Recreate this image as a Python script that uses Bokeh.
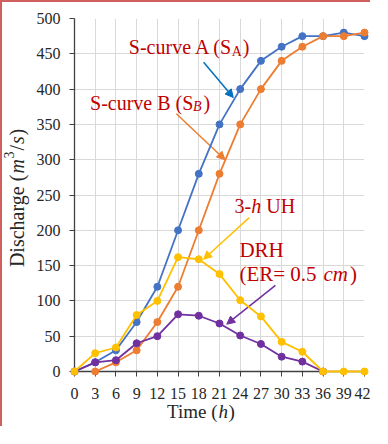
import math
from bokeh.plotting import figure
from bokeh.models import Range1d, FixedTicker, Label, Arrow, NormalHead
from bokeh.core.properties import value
from bokeh.embed import file_html
from bokeh.resources import INLINE

# ---- data ----
time = [0, 3, 6, 9, 12, 15, 18, 21, 24, 27, 30, 33, 36, 39, 42]
s_curve_a = [0, 13, 30, 70, 120, 200, 280, 350, 400, 440, 460, 475, 475, 480, 475]
time_b = [3, 6, 9, 12, 15, 18, 21, 24, 27, 30, 33, 36, 39, 42]
s_curve_b = [0, 13, 30, 70, 120, 200, 280, 350, 400, 440, 460, 475, 475, 480]
uh_3h = [0, 26, 34, 80, 100, 162, 159, 138, 101, 78, 42, 28, 0, 0, 0]
time_drh = [0, 3, 6, 9, 12, 15, 18, 21, 24, 27, 30, 33, 36]
drh = [0, 13, 16, 40, 50, 81, 79, 68, 51, 39, 21, 14, 0]
x_ticks = list(range(0, 43, 3))
y_ticks = list(range(0, 501, 50))

BLUE = "#4472C4"
ORANGE = "#ED7D31"
YELLOW = "#FFC000"
PURPLE = "#7030A0"
RED = "#C00000"
FONT = "Liberation Serif"
FIX = 6  # baseline correction (px)

p = figure(width=370, height=426, output_backend="svg", toolbar_location=None,
           x_range=Range1d(0, 42), y_range=Range1d(0, 500),
           min_border_left=72, min_border_right=8, min_border_top=16, min_border_bottom=57)
p.styles = {"border-left": "2px solid #D0605E", "border-top": "2px solid #D0605E"}
p.outline_line_color = None
p.background_fill_color = "white"
p.border_fill_color = "white"

for ax, ticks in ((p.xaxis, x_ticks), (p.yaxis, y_ticks)):
    ax.ticker = FixedTicker(ticks=ticks)
    ax.major_label_text_font = FONT
    ax.major_label_text_font_size = "16px"
    ax.major_label_text_color = "#262626"
    ax.axis_line_color = "#404040"
    ax.axis_line_width = 1.3
    ax.major_tick_line_color = "#404040"
    ax.major_tick_out = 5
    ax.major_tick_in = 0
    ax.minor_tick_line_color = None
p.xaxis.major_label_standoff = 11
p.yaxis.major_label_standoff = 9

p.xgrid.ticker = FixedTicker(ticks=x_ticks)
p.ygrid.ticker = FixedTicker(ticks=y_ticks)
p.grid.grid_line_color = "#D9D9D9"
p.grid.grid_line_width = 1

series = [
    (time, s_curve_a, BLUE),
    (time_b, s_curve_b, ORANGE),
    (time_drh, drh, PURPLE),
    (time, uh_3h, YELLOW),
]
for xs, ys, c in series:
    p.line(xs, ys, line_color=c, line_width=1.8, level="overlay")
    p.scatter(xs, ys, size=7, fill_color=c, line_color=c, level="overlay")

# arrows (data coordinates)
arrows = [
    ((18.7, 438), (23.0, 388), "#0070C0"),
    ((14.75, 365), (21.8, 300), ORANGE),
    ((25.3, 218), (18.7, 159), YELLOW),
    ((29.1, 122), (22.05, 67), PURPLE),
]
for (x0, y0), (x1, y1), c in arrows:
    p.add_layout(Arrow(end=NormalHead(size=8, fill_color=c, line_color=c),
                       x_start=x0, y_start=y0, x_end=x1, y_end=y1,
                       line_color=c, line_width=1.5))


def piece(x, y, text, dx=0, dy=0, size=20, style="normal", color=RED):
    p.add_layout(Label(x=x, y=y, x_offset=dx, y_offset=dy + FIX, text=text,
                       text_font=FONT, text_font_size=f"{size}px",
                       text_font_style=style, text_color=color,
                       text_baseline="alphabetic", text_align="left",
                       level="overlay"))


def gpiece(x, y, text, dx=0, dy=0, size=19, style="normal", color="#262626", angle=0):
    # text glyph (not clipped at overlay level); dy positive = up
    if angle:
        dx -= FIX
    else:
        dy += FIX
    p.text(x=[x], y=[y], text=[text], x_offset=dx, y_offset=-dy, angle=angle,
           text_font=value(FONT), text_font_size=f"{size}px",
           text_font_style=style, text_color=color,
           text_baseline="alphabetic", text_align="left", level="overlay")


# S-curve A
piece(7.87, 450.8, "S-curve A (S")
piece(7.87, 450.8, "A", dx=103, dy=-4, size=14)
piece(7.87, 450.8, ")", dx=114)
# S-curve B
piece(2.25, 372.2, "S-curve B (S")
piece(2.25, 372.2, "B", dx=103, dy=-4, size=14, style="italic")
piece(2.25, 372.2, ")", dx=113.5)
# 3-h UH
piece(23.18, 226, "3-")
piece(23.18, 226, "h", dx=16.7, style="italic")
piece(23.18, 226, "UH", dx=31.7)
# DRH
piece(23.88, 163, "DRH", size=21)
piece(23.88, 129.2, "(ER= 0.5", size=21)
piece(23.88, 129.2, "cm", dx=84, size=21, style="italic")
piece(23.88, 129.2, ")", dx=110.5, size=21)

# axis titles
gpiece(13.4, -69.0, "Time (", dy=3)
gpiece(13.4, -69.0, "h", dx=51.5, dy=3, style="italic")
gpiece(13.4, -69.0, ")", dx=61.5, dy=3)

ang = math.pi / 2
gpiece(-7.52, 147.9, "Discharge (", size=20, angle=ang)
gpiece(-7.52, 147.9, "m", dy=93.5, size=20, style="italic", angle=ang)
gpiece(-7.52, 147.9, "3", dx=-8, dy=108.5, size=14, angle=ang)
gpiece(-7.52, 147.9, "/", dy=116.5, size=20, angle=ang)
gpiece(-7.52, 147.9, "s", dy=123, size=20, style="italic", angle=ang)
gpiece(-7.52, 147.9, ")", dy=131.5, size=20, angle=ang)

open("out.html", "w").write(file_html(p, INLINE))
